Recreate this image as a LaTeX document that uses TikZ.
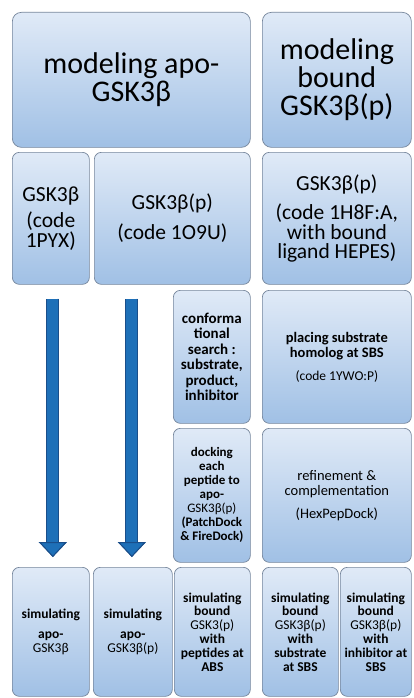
\documentclass[tikz,border=0pt]{standalone}
\usepackage{fontspec}
\setmainfont{Carlito}
\usepackage{tikz}
\usetikzlibrary{arrows.meta,calc}

\definecolor{boxtop}{RGB}{224,234,247}
\definecolor{boxbottom}{RGB}{160,192,229}
\definecolor{boxedge}{RGB}{118,134,156}
\definecolor{arrowblue}{RGB}{30,112,184}
\definecolor{arrowedge}{RGB}{26,78,138}

\newcommand{\fsz}[2]{\fontsize{#1}{#2}\selectfont}

\begin{document}
\begin{tikzpicture}[x=1pt,y=-1pt]
\tikzset{stagebox/.style={draw=boxedge,line width=0.7pt,rounded corners=7pt,
  top color=boxtop,bottom color=boxbottom,anchor=north west,align=center,
  inner sep=1pt,text=black}}
\tikzset{headbox/.style={stagebox,rounded corners=9pt,font=\fsz{30}{28}}}
\tikzset{pdbbox/.style={stagebox,font=\fsz{21.5}{19.5}}}
\tikzset{stepbox/.style={stagebox,font=\bfseries\fsz{13.5}{13.8}}}
\tikzset{flowarrow/.style={line width=11pt,draw=arrowblue,shorten <=1pt,
  -{Triangle[length=15pt,width=28pt,fill=arrowblue,color=arrowedge,line width=1pt]},
  preaction={draw=arrowedge,line width=13pt,
  -{Triangle[length=15pt,width=28pt,fill=arrowedge,color=arrowedge,line width=1pt]}}}}

\fill[white] (0,0) rectangle (413,698);
\useasboundingbox (0,0) rectangle (413,698);

\node[headbox,minimum width=238pt,minimum height=135pt] (apoHead) at (12,12)
  {modeling apo-\\GSK3β};
\node[headbox,minimum width=149pt,minimum height=135pt] (boundHead) at (262,12)
  {modeling\\bound\\GSK3β(p)};

\node[pdbbox,minimum width=77pt,minimum height=132pt] (pdbA) at (12,152)
  {GSK3β\\[7pt](code\\1PYX)};
\node[pdbbox,minimum width=156pt,minimum height=132pt] (pdbB) at (94,152)
  {GSK3β(p)\\[10pt](code 1O9U)};
\node[pdbbox,minimum width=149pt,minimum height=132pt] (pdbC) at (262,152)
  {GSK3β(p)\\[10pt](code 1H8F:A,\\with bound\\ligand HEPES)};

\node[stepbox,font=\bfseries\fsz{15}{15.5},minimum width=77pt,minimum height=133pt] (search) at (173,290)
  {conforma\\tional\\search :\\substrate,\\product,\\inhibitor};
\node[stepbox,font=\bfseries\fsz{14.5}{15},minimum width=149pt,minimum height=133pt] (placing) at (262,290)
  {placing substrate\\homolog at SBS\\[8pt]{\mdseries\fsz{13.5}{14}(code 1YWO:P)}};

\node[stepbox,font=\bfseries\fsz{13}{14},minimum width=77pt,minimum height=134pt] (docking) at (173,428)
  {docking\\each\\peptide to\\apo-\\{\mdseries GSK3β(p)}\\(PatchDock\\\& FireDock)};
\node[stepbox,font=\fsz{14.5}{15},minimum width=149pt,minimum height=134pt] (refine) at (262,428)
  {refinement \&\\complementation\\[8pt](HexPepDock)};

\node[stepbox,minimum width=77pt,minimum height=129pt] (simA) at (12,567)
  {simulating\\[6pt]apo-\\{\mdseries GSK3β}};
\node[stepbox,minimum width=79pt,minimum height=129pt] (simB) at (93,567)
  {simulating\\[6pt]apo-\\{\mdseries GSK3β(p)}};
\node[stepbox,minimum width=76pt,minimum height=129pt] (simC) at (174,567)
  {simulating\\bound\\{\mdseries GSK3(p)}\\with\\peptides at\\ABS};
\node[stepbox,minimum width=76pt,minimum height=129pt] (simD) at (262,567)
  {simulating\\bound\\{\mdseries GSK3β(p)}\\with\\substrate\\at SBS};
\node[stepbox,minimum width=71pt,minimum height=129pt] (simE) at (340,567)
  {simulating\\bound\\{\mdseries GSK3β(p)}\\with\\inhibitor at\\SBS};

\draw[flowarrow] ($(pdbA.south)+(2,13)$) -- ($(simA.north)+(2,-10)$);
\draw[flowarrow] ($(simB.north |- pdbB.south)+(-1,13)$) -- ($(simB.north)+(-1,-10)$);
\end{tikzpicture}
\end{document}
